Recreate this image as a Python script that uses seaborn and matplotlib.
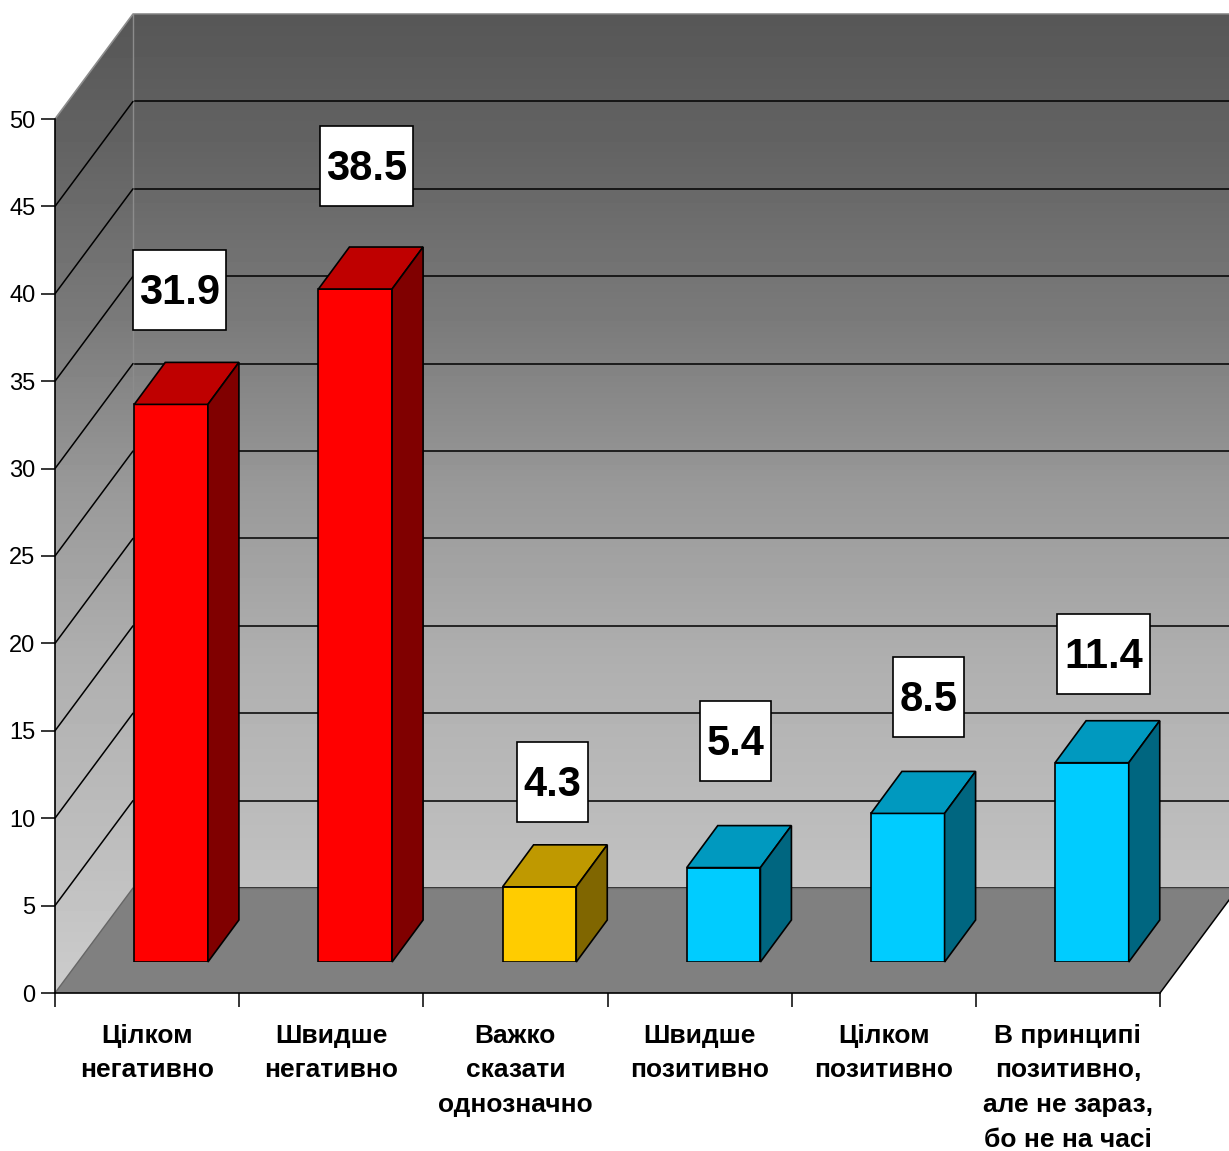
import numpy as np
import pandas as pd
import matplotlib
matplotlib.use('Agg')
import matplotlib.pyplot as plt
import seaborn as sns
from matplotlib.patches import Polygon, Rectangle

categories = ['Цілком\nнегативно', 'Швидше\nнегативно', 'Важко\nсказати\nоднозначно',
              'Швидше\nпозитивно', 'Цілком\nпозитивно',
              'В принципі\nпозитивно,\nале не зараз,\nбо не на часі']
values = [31.9, 38.5, 4.3, 5.4, 8.5, 11.4]
value_labels = ['31.9', '38.5', '4.3', '5.4', '8.5', '11.4']
y_ticks = [0, 5, 10, 15, 20, 25, 30, 35, 40, 45, 50]

front_colors = ['#FF0000', '#FF0000', '#FFCC00', '#00CCFF', '#00CCFF', '#00CCFF']
top_colors = ['#BF0000', '#BF0000', '#BF9900', '#0099BF', '#0099BF', '#0099BF']
side_colors = ['#800000', '#800000', '#806600', '#006680', '#006680', '#006680']

# where the white boxes sit relative to the bar top, in pixels
box_dx = [8.5, 11.5, 13, 12, 21, 12]
box_dy = [114, 123, 105, 127, 116, 109]

W, H = 1229, 1151
PX_X = 1105 / 6      # pixels per category
PX_Y = 874 / 50      # pixels per y unit


def px_axes(fig, left, top, right, bottom, **kw):
    return fig.add_axes([left / W, 1 - bottom / H, (right - left) / W, (bottom - top) / H], **kw)


def wall_ramp(t_end):
    # wall shading from the top edge downwards
    t = np.linspace(0, t_end, 256)
    v = np.interp(t, [0, 0.155, 0.35, 0.545, 0.75, 0.955, 1.12],
                  [0.34, 0.39, 0.48, 0.60, 0.69, 0.745, 0.80])
    return v.reshape(-1, 1)


sns.set_theme(style='white')
plt.rcParams['font.family'] = ['Liberation Sans', 'DejaVu Sans']

fig = plt.figure(figsize=(W / 100, H / 100), dpi=100, facecolor='white')

# back wall, shifted by the chart depth
ax_back = px_axes(fig, 133, 14, 1238, 888, zorder=0)
ax_back.imshow(wall_ramp(1), cmap='gray', vmin=0, vmax=1, aspect='auto', extent=[-0.5, 5.5, 0, 50],
               origin='upper', interpolation='bilinear')
ax_back.set_xlim(-0.5, 5.5)
ax_back.set_ylim(0, 50)
ax_back.set_xticks([])
ax_back.set_yticks(y_ticks)
ax_back.tick_params(left=False, labelleft=False)
ax_back.grid(axis='y', color='black', lw=1.1)
for s in ax_back.spines.values():
    s.set_visible(False)

# front plane: side wall, floor and the axes themselves
ax = px_axes(fig, 55, 119, 1160, 993, zorder=1)
ax.patch.set_visible(False)
ax.set_xlim(-0.5, 5.5)
ax.set_ylim(0, 50)
dx, dy = 78 / PX_X, 105 / PX_Y

side_wall = Polygon([(-0.5, 0), (-0.5 + dx, dy), (-0.5 + dx, 50 + dy), (-0.5, 50)],
                    closed=True, fc='none', ec='none', transform=ax.transData)
ax.add_patch(side_wall)
im = ax.imshow(wall_ramp(979 / 874), cmap='gray', vmin=0, vmax=1, aspect='auto',
               extent=[-0.5, -0.5 + dx, 0, 50 + dy], origin='upper', interpolation='bilinear')
ax.set_xlim(-0.5, 5.5)
ax.set_ylim(0, 50)
im.set_clip_box(fig.bbox)
im.set_clip_path(side_wall)

floor = Polygon([(-0.5, 0), (5.5, 0), (5.5 + dx, dy), (-0.5 + dx, dy)], closed=True,
                fc='#808080', ec='none', clip_on=False, zorder=2)
ax.add_patch(floor)
ax.plot([-0.5 + dx, 5.5 + dx], [dy, dy], color='#6e6e6e', lw=1, clip_on=False, zorder=3)
ax.plot([-0.5, -0.5 + dx], [0, dy], color='#666666', lw=1, clip_on=False, zorder=3)
ax.plot([5.5, 5.5 + dx], [0, dy], color='black', lw=1.1, clip_on=False, zorder=3)
ax.plot([-0.5, -0.5 + dx, 5.5 + dx], [50, 50 + dy, 50 + dy], color='#8c8c8c', lw=1.2,
        clip_on=False, zorder=3)
ax.plot([-0.5 + dx, -0.5 + dx], [dy, 50 + dy], color='#8c8c8c', lw=1, clip_on=False, zorder=1.5)
for t in y_ticks[1:-1]:
    ax.plot([-0.5, -0.5 + dx], [t, t + dy], color='black', lw=1.1, clip_on=False, zorder=3)

ax.set_xticks(range(6))
ax.set_xticklabels(categories, fontsize=19, fontweight='bold', color='black', linespacing=1.57)
ax.set_xticks(np.arange(-0.5, 6), minor=True)
ax.set_yticks(y_ticks)
ax.tick_params(axis='x', which='major', length=0, pad=22)
ax.tick_params(axis='x', which='minor', length=10, width=1.1, color='black', bottom=True)
ax.tick_params(axis='y', length=10, width=1.1, color='black', left=True, labelsize=17,
               labelcolor='black', pad=4)
for name in ['top', 'right']:
    ax.spines[name].set_visible(False)
for name in ['left', 'bottom']:
    ax.spines[name].set_color('black')
    ax.spines[name].set_linewidth(1.2)
    ax.spines[name].set_zorder(4)

# bars, on a transparent copy of the axes moved part way into the depth
ax_bar = px_axes(fig, 55 + 24, 119 - 31, 1160 + 24, 993 - 31, zorder=2)
ax_bar.patch.set_visible(False)
df = pd.DataFrame({'category': categories, 'value': values})
sns.barplot(data=df, x='category', y='value', hue='category', palette=front_colors,
            saturation=1, width=0.4, edgecolor='black', linewidth=1.2, legend=False,
            ax=ax_bar)
ax_bar.set_xlim(-0.5, 5.5)
ax_bar.set_ylim(0, 50)
ax_bar.axis('off')

bar_dx, bar_dy = 31 / PX_X, 42 / PX_Y
for i, v in enumerate(values):
    l, r = i - 0.2, i + 0.2
    ax_bar.add_patch(Polygon([(l, v), (r, v), (r + bar_dx, v + bar_dy), (l + bar_dx, v + bar_dy)],
                             closed=True, fc=top_colors[i], ec='black', lw=1.2, clip_on=False))
    ax_bar.add_patch(Polygon([(r, 0), (r + bar_dx, bar_dy), (r + bar_dx, v + bar_dy), (r, v)],
                             closed=True, fc=side_colors[i], ec='black', lw=1.2, clip_on=False))

# value boxes, sized in pixels
for i, v in enumerate(values):
    cx, cy = ax_bar.transData.transform((i, v))
    cx += box_dx[i]
    cy += box_dy[i]
    bw = 93 if len(value_labels[i]) == 4 else 71
    ax_bar.add_patch(Rectangle((cx - bw / 2, cy - 40), bw, 80, transform=None, fc='white',
                               ec='black', lw=1.2, clip_on=False, zorder=5))
    ax_bar.text(cx, cy + 1.5, value_labels[i], transform=None, ha='center', va='center_baseline',
                fontsize=30, fontweight='bold', color='black', zorder=6, clip_on=False)

fig.savefig('out.png', dpi=100)
